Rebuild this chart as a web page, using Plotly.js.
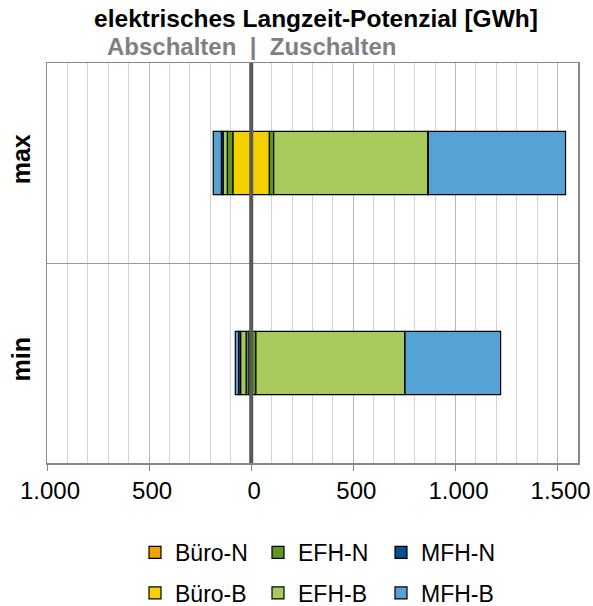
<!DOCTYPE html>
<html><head><meta charset="utf-8">
<script src="https://cdn.plot.ly/plotly-3.0.1.min.js"></script>
<style>html,body{margin:0;padding:0;background:#fff}</style>
</head><body><div id="chart" style="width:593px;height:606px"></div>
<script>
// Categories (bottom to top)
const categories = ['min', 'max'];

// Stack order (from zero outward)
const stackOrder = ['Büro-N', 'Büro-B', 'EFH-N', 'EFH-B', 'MFH-N', 'MFH-B'];

// Abschalten (negative side) values per category [min, max] in GWh
const abschalten_BueroN = [-3, 0];
const abschalten_BueroB = [-8, -90];
const abschalten_EFHN   = [-14, -27];
const abschalten_EFHB   = [-27, -21];
const abschalten_MFHN   = [-10, -8];
const abschalten_MFHB   = [-16, -40];

// Zuschalten (positive side) values per category [min, max] in GWh
const zuschalten_BueroN = [2, 0];
const zuschalten_BueroB = [3, 89];
const zuschalten_EFHN   = [18, 21];
const zuschalten_EFHB   = [730, 755];
const zuschalten_MFHN   = [0, 2];
const zuschalten_MFHB   = [468, 672];

// X tick labels
const tickVals = [-1000, -500, 0, 500, 1000, 1500];
const tickText = ['1.000', '500', '0', '500', '1.000', '1.500'];

const colors = {
  'Büro-N': '#F2A200',
  'Büro-B': '#F5D100',
  'EFH-N':  '#5F971F',
  'EFH-B':  '#A8C95B',
  'MFH-N':  '#00508F',
  'MFH-B':  '#54A3D4'
};
const negData = {
  'Büro-N': abschalten_BueroN, 'Büro-B': abschalten_BueroB,
  'EFH-N': abschalten_EFHN, 'EFH-B': abschalten_EFHB,
  'MFH-N': abschalten_MFHN, 'MFH-B': abschalten_MFHB
};
const posData = {
  'Büro-N': zuschalten_BueroN, 'Büro-B': zuschalten_BueroB,
  'EFH-N': zuschalten_EFHN, 'EFH-B': zuschalten_EFHB,
  'MFH-N': zuschalten_MFHN, 'MFH-B': zuschalten_MFHB
};

const traces = [];
stackOrder.forEach(name => {
  const base = {
    type: 'bar', orientation: 'h', y: categories, name: name,
    legendgroup: name,
    marker: {color: colors[name], line: {color: '#000', width: 1.2}},
    hoverinfo: 'skip'
  };
  traces.push(Object.assign({}, base, {x: negData[name], showlegend: false}));
  traces.push(Object.assign({}, base, {
    x: posData[name], showlegend: true,
    legend: name.endsWith('-N') ? 'legend' : 'legend2'
  }));
});

const legendBase = {
  orientation: 'h', xref: 'container', x: 135/593, xanchor: 'left',
  yref: 'container', yanchor: 'middle', entrywidth: 78,
  font: {size: 23, color: '#000'}, bgcolor: 'rgba(0,0,0,0)',
  itemclick: false, itemdoubleclick: false
};

const layout = {
  width: 593, height: 606,
  margin: {l: 47, r: 15, t: 63, b: 143},
  barmode: 'relative', bargap: 0.683,
  paper_bgcolor: '#fff', plot_bgcolor: '#fff',
  font: {family: 'Liberation Sans, Arial, sans-serif', color: '#000'},
  title: {
    text: '<b>elektrisches Langzeit-Potenzial [GWh]</b>',
    font: {size: 24.5, color: '#000'},
    xref: 'container', x: 316/593, xanchor: 'center',
    yref: 'container', y: 1 - 18/606, yanchor: 'middle'
  },
  xaxis: {
    range: [-1000, 1600], tickmode: 'array', tickvals: tickVals, ticktext: tickText,
    ticks: 'outside', ticklen: 6, tickcolor: '#868686', tickwidth: 1,
    showline: true, linecolor: '#868686', linewidth: 1.5, mirror: true,
    showgrid: true, gridcolor: '#b8b8b8', gridwidth: 1,
    minor: {dtick: 100, tick0: 0, showgrid: true, gridcolor: '#d4d4d4', gridwidth: 1, ticks: ''},
    zeroline: false, tickfont: {size: 24, color: '#000'}, ticklabelshift: 3, fixedrange: true
  },
  yaxis: {
    type: 'category', categoryorder: 'array', categoryarray: categories,
    tickson: 'boundaries', ticks: '', showgrid: true, gridcolor: '#9a9a9a', gridwidth: 1,
    showline: true, linecolor: '#868686', linewidth: 1.5, mirror: true,
    tickangle: -90, tickfont: {size: 25, weight: 'bold', color: '#000'},
    ticklabelstandoff: 6,
    range: [-0.5, 1.5], fixedrange: true
  },
  legend: Object.assign({}, legendBase, {y: 1 - 552.5/606}),
  legend2: Object.assign({}, legendBase, {y: 1 - 593/606}),
  shapes: [{
    type: 'line', xref: 'x', x0: 0, x1: 0, yref: 'paper', y0: 0, y1: 1,
    line: {color: '#595959', width: 4}, layer: 'above'
  }],
  annotations: [{
    text: '<b>Abschalten&nbsp; |&nbsp; Zuschalten</b>', xref: 'x', x: 0, xanchor: 'center',
    yref: 'paper', y: (463 - 46)/400, yanchor: 'middle', showarrow: false,
    font: {size: 24, color: '#808080'}
  }]
};

Plotly.newPlot('chart', traces, layout, {displayModeBar: false, staticPlot: true});
</script>
</body></html>
